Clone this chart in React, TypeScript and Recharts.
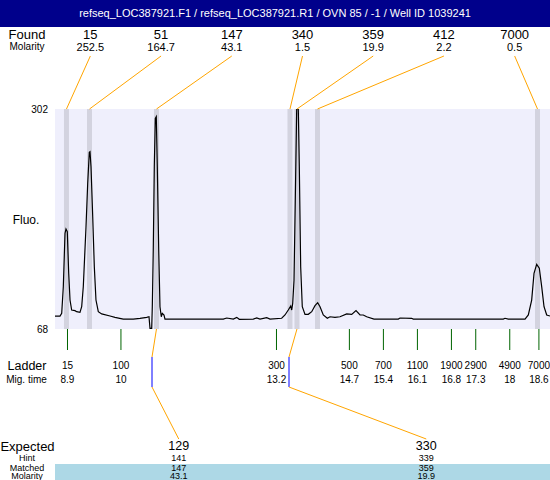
import React from "react";
import { ComposedChart, Line, XAxis, YAxis, CartesianGrid, ReferenceArea, ReferenceLine } from "recharts";

const TITLE = "refseq_LOC387921.F1 / refseq_LOC387921.R1 / OVN 85 / -1 / Well ID 1039241";

// electropherogram trace: migration time (min) and fluorescence
const traceTime = [
  8.643, 8.746, 8.781, 8.814, 8.849, 8.869, 8.896, 8.925, 8.952, 8.986,
  9.054, 9.089, 9.157, 9.192, 9.225, 9.281, 9.316, 9.349, 9.363, 9.384,
  9.419, 9.452, 9.486, 9.534, 9.604, 9.775, 9.877, 10.048, 10.254, 10.392,
  10.53, 10.577, 10.598, 10.633, 10.645, 10.665, 10.686, 10.707, 10.727, 10.748,
  10.777, 10.803, 10.83, 10.851, 10.886, 10.906, 11.626, 12.106, 12.176, 12.312,
  12.382, 12.435, 12.723, 12.793, 12.861, 12.999, 13.067, 13.307, 13.375, 13.443,
  13.493, 13.513, 13.534, 13.561, 13.587, 13.616, 13.649, 13.67, 13.698, 13.731,
  13.787, 13.855, 13.925, 13.993, 14.048, 14.096, 14.163, 14.246, 14.301, 14.404,
  14.507, 14.645, 14.748, 14.836, 14.919, 14.986, 15.056, 15.207, 15.707, 15.742,
  15.982, 16.015, 17.867, 17.902, 17.97, 18.314, 18.382, 18.451, 18.499, 18.554,
  18.608, 18.657, 18.705, 18.76, 18.828,
];
const traceFluo = [
  81.8, 81.8, 84.7, 113, 169.8, 174.4, 171.5, 127.2, 98.8, 88.2,
  87.5, 86.4, 85.7, 91.7, 113, 176.8, 223, 256, 256.6, 240.6,
  187.4, 134.3, 98.8, 86.4, 84, 81.8, 80.4, 78.6, 78.6, 79.4,
  80.4, 81, 68.7, 68.7, 91.7, 152, 240.6, 292, 293.8, 240.6,
  152, 91.7, 81, 84.7, 82.9, 78.6, 78.6, 78.6, 79.7, 78.6,
  80.4, 78.3, 78.6, 79.7, 78.6, 80, 78.6, 79.4, 82.9, 88.2,
  92.5, 88.2, 95.3, 120, 205, 302, 302, 240.6, 134.3, 91.7,
  83.6, 83.6, 86.4, 92.8, 96, 91.7, 82.9, 79.4, 81, 80.4,
  81, 84, 83.6, 87.5, 82.9, 82.9, 81, 78.6, 78.6, 79.7,
  79.4, 78.6, 78.6, 79.4, 78.6, 78.6, 82.9, 98.8, 127.2, 136.8,
  132.6, 113, 91.7, 82.9, 81.8,
];

// found peaks
const foundSizes = ["15", "51", "147", "340", "359", "412", "7000"];
const foundMolarity = ["252.5", "164.7", "43.1", "1.5", "19.9", "2.2", "0.5"];
const foundTimes = [8.879, 9.353, 10.731, 13.478, 13.622, 14.044, 18.571];

// ladder
const ladderSizes = ["15", "100", "300", "500", "700", "1100", "1900", "2900", "4900", "7000"];
const ladderTimes = [8.9, 10, 13.2, 14.7, 15.4, 16.1, 16.8, 17.3, 18, 18.6];

// expected fragments
const expectedSizes = ["129", "330"];
const hintSizes = ["141", "339"];
const matchedSizes = ["147", "359"];
const matchedMolarity = ["43.1", "19.9"];
const matchedTimes = [10.731, 13.622];
const hintTimes = [10.639, 13.458];

const X_MIN = 8.643;
const X_MAX = 18.828;
const Y_MIN = 68;
const Y_MAX = 302;
const BAND = 0.0514;

const W = 550;
const H = 480;
const PLOT_LEFT = 55;
const PLOT_W = 495;

const ORANGE = "#FFA500";
const FONT = "Arial, 'Liberation Sans', Helvetica, sans-serif";

const data = traceTime.map((t, i) => ({ t, f: traceFluo[i] }));

const Label = ({ x, y, size, children }: { x: number; y: number; size: number; children: React.ReactNode }) => (
  <div
    style={{
      position: "absolute",
      left: x,
      top: y,
      transform: "translate(-50%, -50%)",
      fontSize: size,
      lineHeight: 1,
      whiteSpace: "nowrap",
      color: "#000",
    }}>
    {children}
  </div>
);

const txt = (x: number, y: number, size: number, s: string) => (
  <text x={x} y={y} textAnchor="middle" dominantBaseline="central" fontSize={size} fill="#000" fontFamily={FONT}>
    {s}
  </text>
);

const foundMark = (p: any, i: number) => {
  const x = p.x1;
  const top = Math.min(p.y1, p.y2);
  const cx = PLOT_LEFT + ((i + 0.5) * PLOT_W) / foundSizes.length;
  return (
    <g>
      <line x1={cx} y1={56} x2={x} y2={top} stroke={ORANGE} strokeWidth={1} />
      {txt(cx, 34, 13, foundSizes[i])}
      {txt(cx, 47, 11, foundMolarity[i])}
    </g>
  );
};

const ladderMark = (p: any, i: number) => {
  const x = p.x1;
  const bottom = Math.max(p.y1, p.y2);
  return (
    <g>
      <line x1={x} y1={bottom} x2={x} y2={bottom + 21} stroke="#006400" strokeWidth={1} />
      {txt(x, 365.5, 10, ladderSizes[i])}
      {txt(x, 379.5, 10, String(ladderTimes[i]))}
    </g>
  );
};

const expectedMark = (p: any, i: number) => {
  const xm = p.x1;
  const xh = p.x2;
  const yb = p.y1;
  const cx = PLOT_LEFT + ((i + 0.5) * PLOT_W) / expectedSizes.length;
  return (
    <g>
      <line x1={xm} y1={yb} x2={xh} y2={357} stroke={ORANGE} strokeWidth={1} />
      <line x1={xh} y1={357} x2={xh} y2={387} stroke="#0000FF" strokeWidth={1} />
      <line x1={xh} y1={387} x2={cx} y2={439} stroke={ORANGE} strokeWidth={1} />
      {txt(cx, 445.5, 12.5, expectedSizes[i])}
      {txt(cx, 457.5, 9, hintSizes[i])}
      {txt(cx, 467.5, 9, matchedSizes[i])}
      {txt(cx, 476, 9, matchedMolarity[i])}
    </g>
  );
};

export default function App() {
  return (
    <div style={{ position: "absolute", left: 0, top: 0, width: W, height: H, background: "#fff", fontFamily: FONT, overflow: "hidden" }}>
      <div style={{ position: "absolute", left: 55, top: 464, width: 495, height: 16, background: "#ADD8E6" }} />
      <div
        style={{
          position: "absolute",
          left: 0,
          top: 0,
          width: W,
          height: 27,
          background: "#00008B",
          color: "#fff",
          fontSize: 11,
          lineHeight: "26px",
          textAlign: "center",
        }}>
        {TITLE}
      </div>
      <div style={{ position: "absolute", left: 0, top: 0 }}>
        <ComposedChart width={W} height={H} data={data} margin={{ top: 109, right: 0, bottom: 151, left: 0 }}>
          <CartesianGrid fill="#EFEFFC" fillOpacity={1} horizontal={false} vertical={false} stroke="none" />
          <XAxis type="number" dataKey="t" domain={[X_MIN, X_MAX]} allowDataOverflow hide />
          <YAxis
            type="number"
            domain={[Y_MIN, Y_MAX]}
            ticks={[Y_MIN, Y_MAX]}
            interval={0}
            allowDataOverflow
            width={55}
            axisLine={false}
            tickLine={false}
            tickMargin={1}
            tick={{ fontSize: 10, fill: "#000", fontFamily: FONT }}
          />
          {foundTimes.map((t, i) => (
            <ReferenceArea key={`band-${i}`} x1={t - BAND} x2={t + BAND} fill="#D3D3DF" fillOpacity={1} stroke="none" />
          ))}
          <Line dataKey="f" type="linear" stroke="#000" strokeWidth={1.2} dot={false} activeDot={false} isAnimationActive={false} />
          {foundTimes.map((t, i) => (
            <ReferenceLine key={`found-${i}`} x={t} shape={(p: any) => foundMark(p, i)} />
          ))}
          {ladderTimes.map((t, i) => (
            <ReferenceLine key={`ladder-${i}`} x={t} shape={(p: any) => ladderMark(p, i)} />
          ))}
          {matchedTimes.map((t, i) => (
            <ReferenceLine
              key={`exp-${i}`}
              segment={[
                { x: t, y: Y_MIN },
                { x: hintTimes[i], y: Y_MIN },
              ]}
              shape={(p: any) => expectedMark(p, i)}
            />
          ))}
        </ComposedChart>
      </div>
      <Label x={27} y={34} size={13}>Found</Label>
      <Label x={27} y={47} size={10}>Molarity</Label>
      <Label x={26} y={220} size={12}>Fluo.</Label>
      <Label x={27} y={365.5} size={12.5}>Ladder</Label>
      <Label x={26.5} y={379.5} size={10}>Mig. time</Label>
      <Label x={27.5} y={445.5} size={13}>Expected</Label>
      <Label x={27} y={457.5} size={9}>Hint</Label>
      <Label x={27} y={467.5} size={9}>Matched</Label>
      <Label x={27} y={476} size={9}>Molarity</Label>
    </div>
  );
}
